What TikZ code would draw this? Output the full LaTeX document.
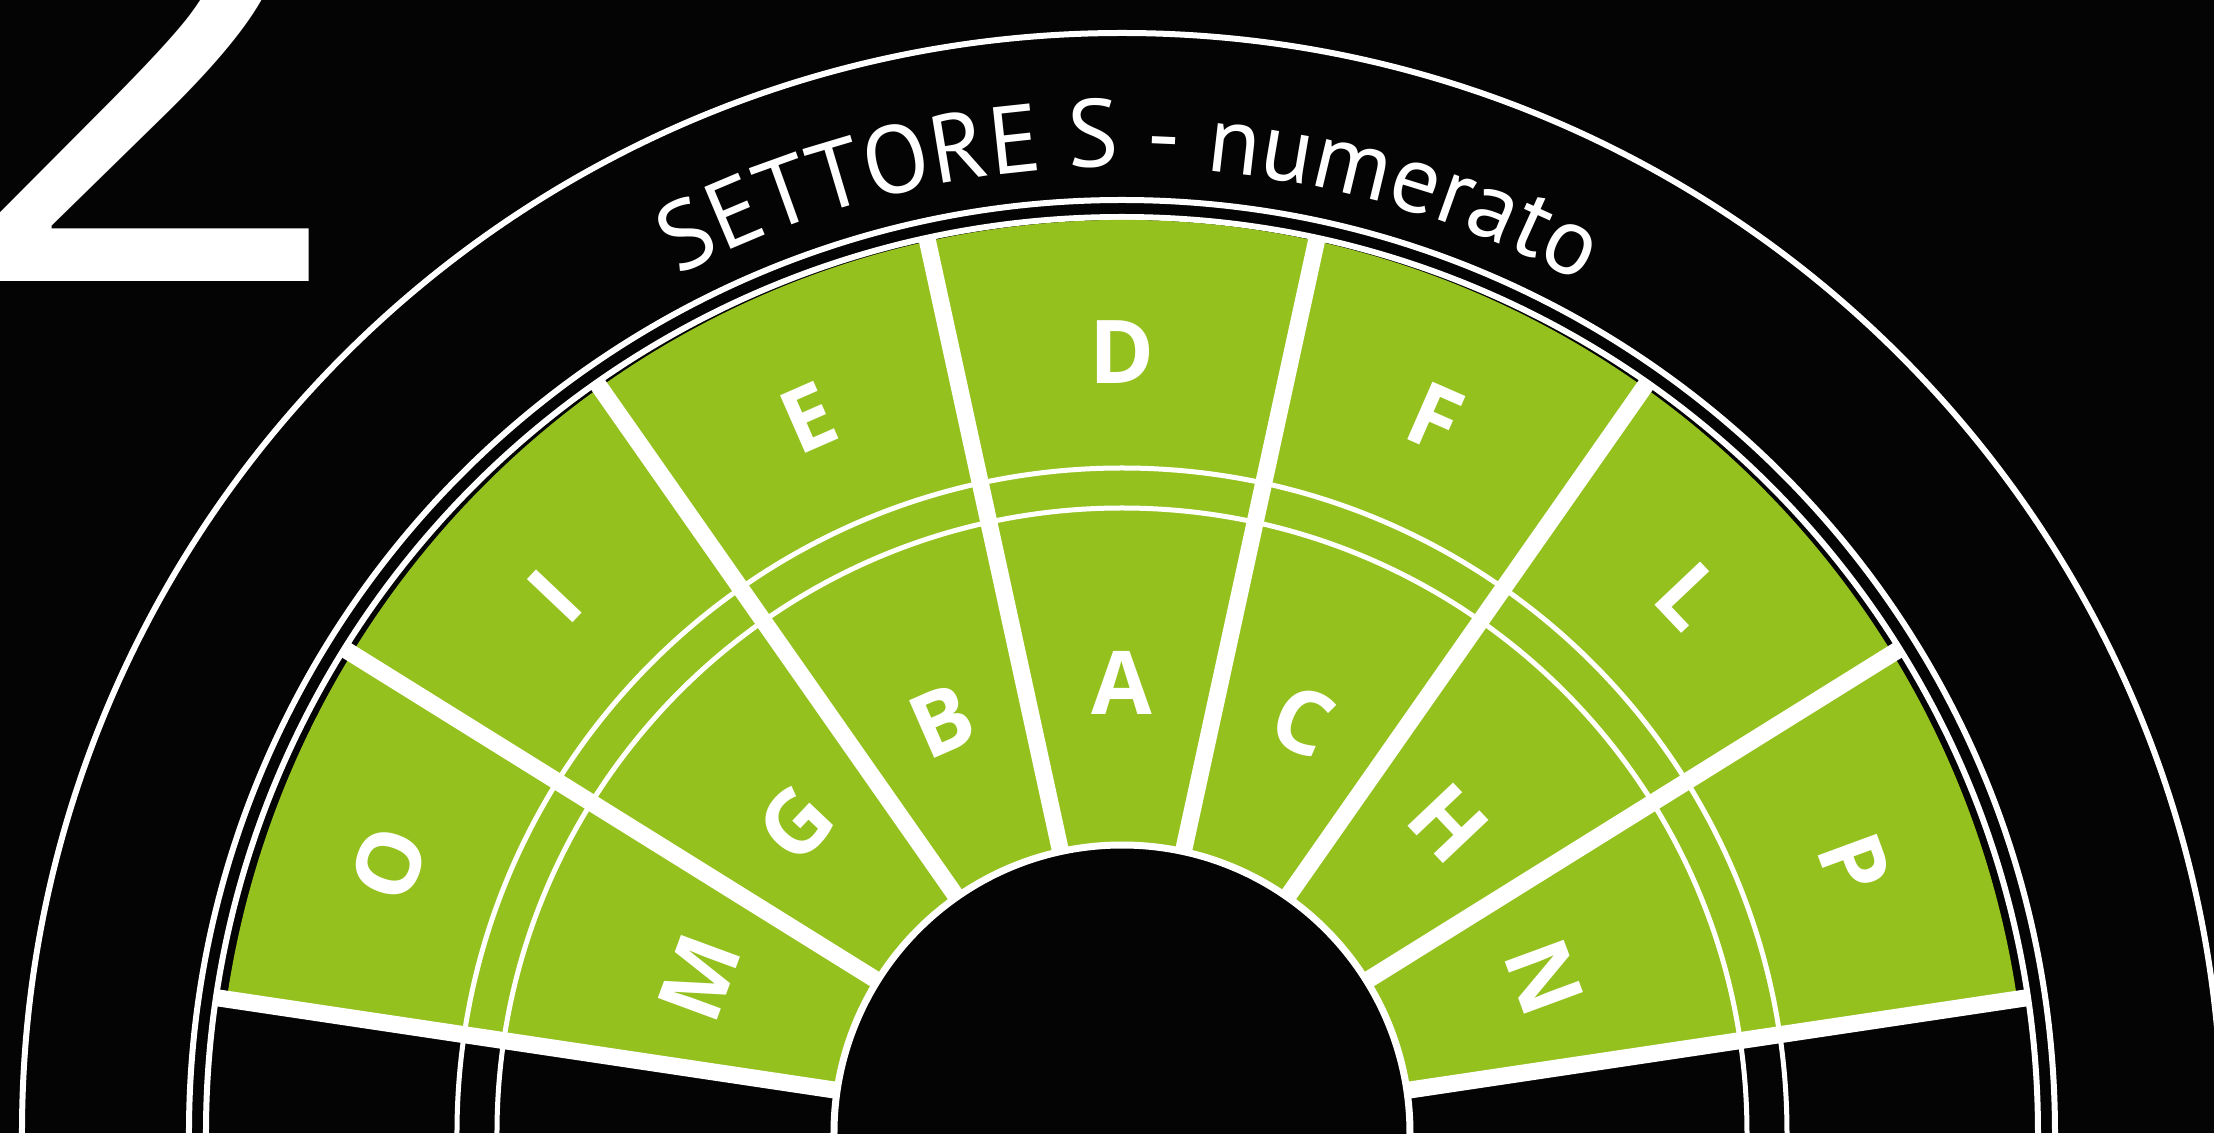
\documentclass[tikz,border=0pt]{standalone}
\usepackage{fontspec}
\newfontfamily\titlefont{PT Sans}
\newfontfamily\letterfont{Open Sans}
\newfontfamily\digitfont{Open Sans}
\usetikzlibrary{decorations.text}
\definecolor{turf}{RGB}{149,193,31}
\definecolor{ink}{RGB}{4,4,4}
\begin{document}
\begin{tikzpicture}[x=1pt,y=1pt,
  outerline/.style={draw=white,line width=6pt},
  midring/.style={draw=white,line width=5pt},
  divider/.style={draw=white,line width=17pt},
  seclabel/.style={text=white,inner sep=0pt,font=\letterfont\bfseries\fontsize{88}{88}\selectfont}]
\useasboundingbox (-1122,0) rectangle (1092,1133);
\clip (-1122,0) rectangle (1092,1133);
\fill[ink] (-1122,0) rectangle (1092,1133);
% big sector number
\node[anchor=base west,inner sep=0pt,text=white,font=\digitfont\fontsize{700}{700}\selectfont] (num) at (-1176,851) {2};
% outer lines
\draw[outerline] (0,0) circle[radius=1100pt];
\draw[outerline] (0,0) circle[radius=933pt];
\draw[outerline] (0,0) circle[radius=916pt];
% green stands
\fill[turf] (0,0) -- (8.5:905pt and 913pt) arc[start angle=8.5,end angle=171.5,x radius=905pt,y radius=913pt] -- cycle;
% middle rings
\draw[midring] (0,0) circle[radius=665pt];
\draw[midring] (0,0) circle[radius=625pt];
% dividers
\foreach \a in {8.5,31.9,55,77.7,102.3,125,148.1,171.5}
  \draw[divider] (\a:270pt) -- (\a:917pt);
% pitch end
\fill[ink] (0,0) circle[radius=285pt];
\draw[white,line width=7pt] (0,0) circle[radius=288pt];
% sector labels
\foreach \ang/\lab in {20.2/P,43.45/L,66.35/F,90/D,113.65/E,136.55/I,159.8/O}
  \node[seclabel,rotate=\ang-90] (out\lab) at (\ang:781pt) {\lab};
\foreach \ang/\lab in {20.2/N,43.45/H,66.35/C,90/A,113.65/B,136.55/G,159.8/M}
  \node[seclabel,rotate=\ang-90] (in\lab) at (\ang:450pt) {\lab};
% title
\path[decorate,decoration={text along path,text align=center,
  text={|\titlefont\fontsize{96}{96}\selectfont\color{white}|SETTORE S - numerato}}]
  (170.5:966pt) arc[start angle=170.5,end angle=8.5,radius=966pt];
\end{tikzpicture}
\end{document}
